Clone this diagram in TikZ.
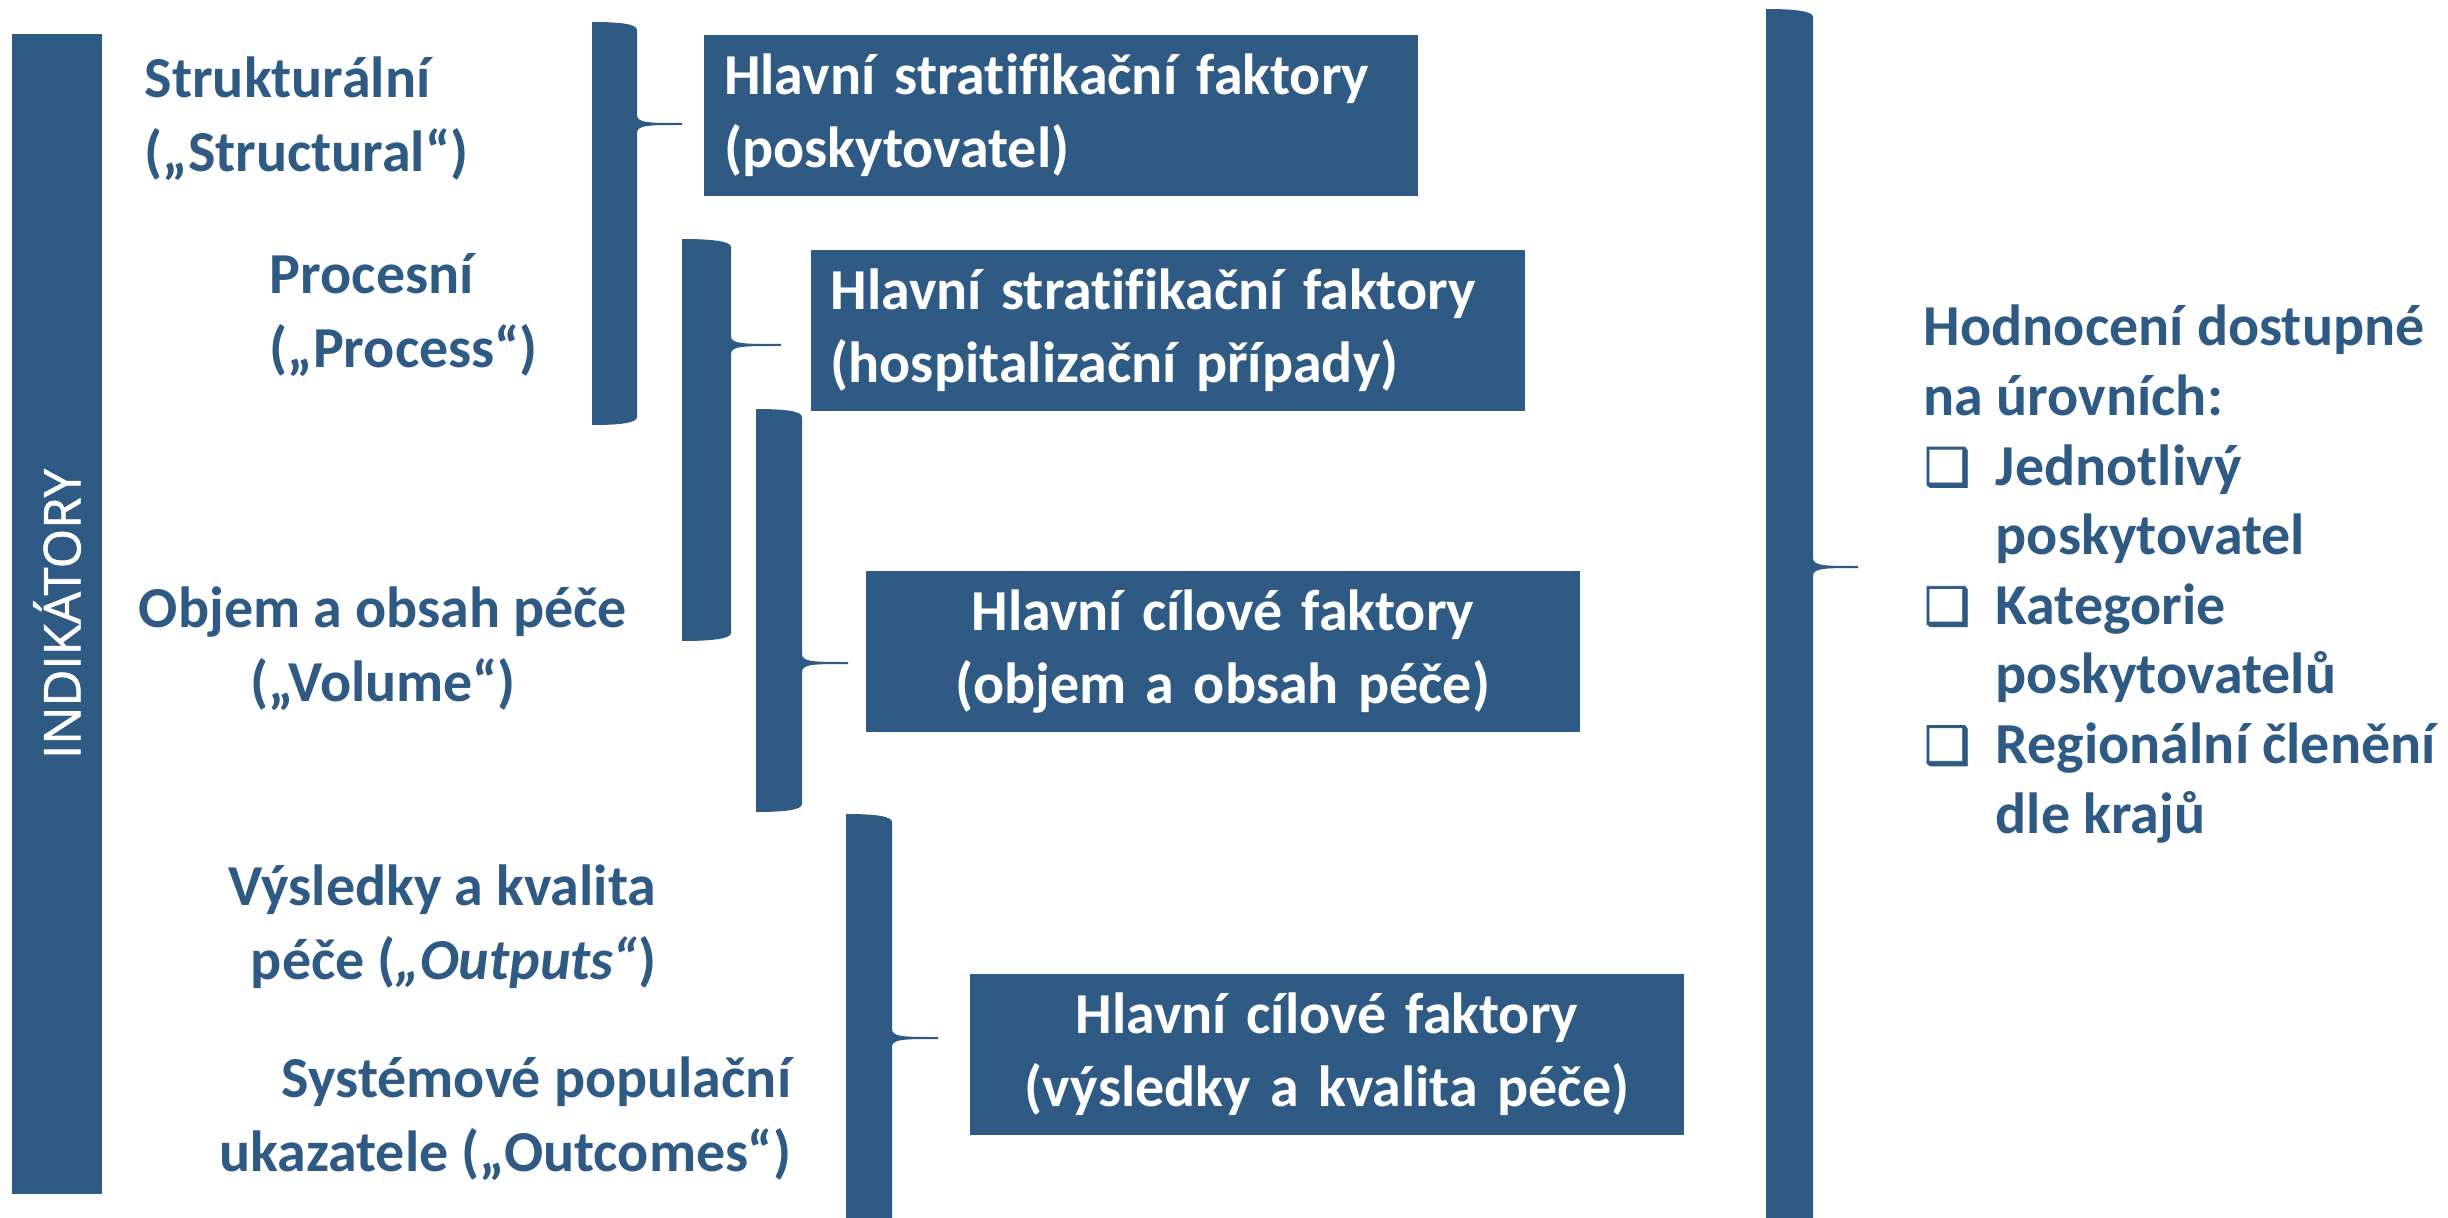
\documentclass[tikz,border=0pt]{standalone}
\usepackage{fontspec}
\setmainfont{Carlito}[Ligatures=NoCommon]
\newfontfamily\barfont{Open Sans}[FakeBold=1.2]
\newfontfamily\symfont{DejaVu Sans}[FakeBold=1.5]
\definecolor{slate}{HTML}{2E5A84}
\tikzstyle{factor} = [fill=slate, text=white, font=\bfseries\fontsize{14.5}{18.3}\selectfont, minimum width=178.5pt, minimum height=40.25pt, text width=168.5pt, inner xsep=5pt, inner ysep=0pt]
\tikzstyle{label} = [text=slate, font=\bfseries\fontsize{14.5}{18.5}\selectfont, inner sep=0pt]
\tikzstyle{bar} = [fill=slate, text=white, font=\barfont\fontsize{12.7}{15}\selectfont, minimum width=290pt, minimum height=22.5pt, inner sep=0pt]
\newcommand{\cbox}{\makebox[18pt][l]{\symfont\fontsize{13}{13}\selectfont ❑}}
% left, right, top, bottom, spike, tip
\newcommand{\bracebar}[6]{%
    \fill [slate] (#1, #3) .. controls (#1 + 28, #3) and (#2, #3 + 2) .. (#2, #3 + 8)
        -- (#2, #5 - 9) .. controls (#2, #5 - 1) and (#2 + 12, #5 - 1) .. (#6, #5 - 1)
        -- (#6, #5 + 1) .. controls (#2 + 12, #5 + 1) and (#2, #5 + 1) .. (#2, #5 + 9)
        -- (#2, #4 - 8) .. controls (#2, #4 - 2) and (#1 + 28, #4) .. (#1, #4) -- cycle;
}

\begin{document}
\begin{tikzpicture}[x=0.25pt, y=-0.25pt]
    \useasboundingbox (0, 0) rectangle (2448, 1218);
    \clip (0, 0) rectangle (2448, 1218);

    % Indicator bar.
    \node (indicators) [bar, rotate=90] at (57, 614) {INDIKÁTORY};

    % Indicator groups (anchored at the last baseline).
    \node (structural) [label, align=left, anchor=base west] at (144, 172) {Strukturální\\(„Structural“)};
    \node (process) [label, align=left, anchor=base west] at (269, 368) {Procesní\\(„Process“)};
    \node (volume) [label, align=center, anchor=base] at (383, 701) {Objem a obsah péče\\(„Volume“)};
    \node (outputs) [label, align=right, anchor=base east] at (657, 979) {Výsledky a kvalita\\péče (\textit{„Outputs“})};
    \node (outcomes) [label, align=right, anchor=base east] at (792, 1171) {Systémové populační\\ukazatele („Outcomes“)};

    % Braces.
    \bracebar{592}{637}{22}{425}{124}{682}
    \bracebar{682}{731}{239}{641}{345}{781}
    \bracebar{756}{802}{409}{812}{663}{848}
    \bracebar{846}{892}{814}{1240}{1038}{938}
    \bracebar{1766}{1813}{9}{1240}{567}{1858}

    % Factors.
    \node (provider) [factor, align=left] at (1061, 115.5) {Hlavní stratifikační faktory\\(poskytovatel)};
    \node (cases) [factor, align=left] at (1167.5, 330.5) {Hlavní stratifikační faktory\\(hospitalizační případy)};
    \node (volume goal) [factor, align=center] at (1223, 651.5) {Hlavní cílové faktory\\(objem a obsah péče)};
    \node (outputs goal) [factor, align=center] at (1327, 1054.5) {Hlavní cílové faktory\\(výsledky a kvalita péče)};

    % Levels.
    \node (levels) [label, align=left, anchor=base west, font=\bfseries\fontsize{14.5}{17.4}\selectfont] at (1923, 833) {Hodnocení dostupné\\na úrovních:\\\cbox Jednotlivý\\\hspace*{18pt}poskytovatel\\\cbox Kategorie\\\hspace*{18pt}poskytovatelů\\\cbox Regionální členění\\\hspace*{18pt}dle krajů};
\end{tikzpicture}
\end{document}
